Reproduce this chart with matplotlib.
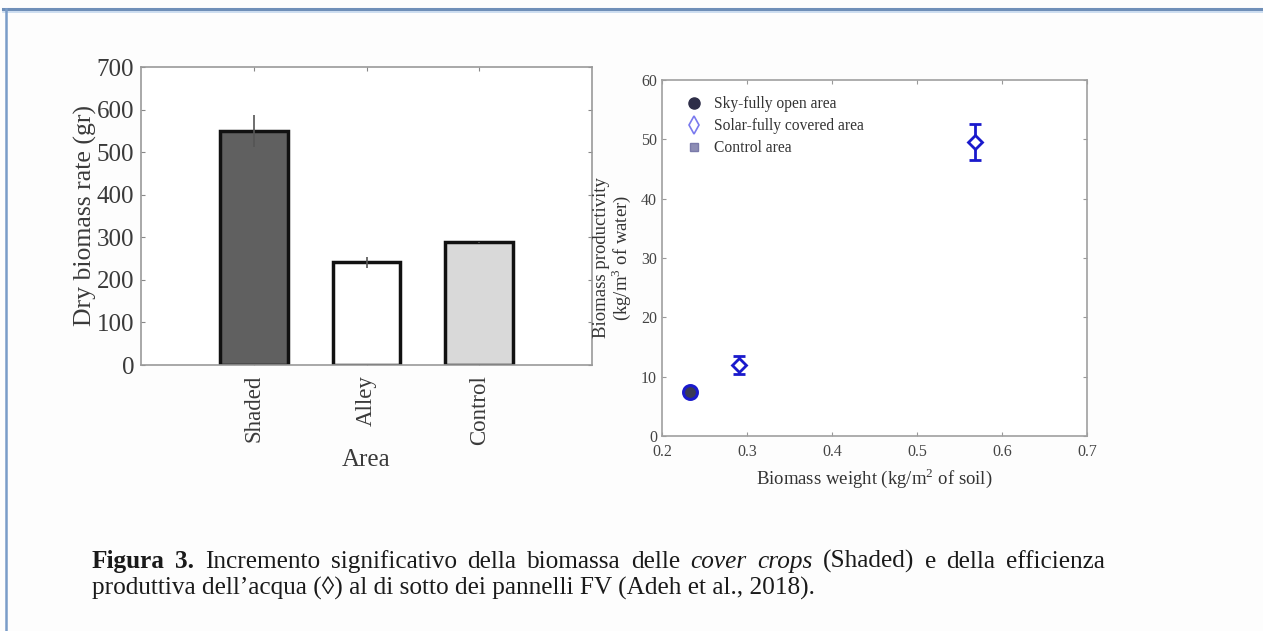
import matplotlib
matplotlib.use("Agg")
import matplotlib.pyplot as plt
from matplotlib.lines import Line2D

plt.rcParams['font.family'] = ['Liberation Serif', 'DejaVu Serif']
plt.rcParams['mathtext.fontset'] = 'custom'
plt.rcParams['mathtext.rm'] = 'Liberation Serif'

# ---- data: left bar chart ----
areas = ["Shaded", "Alley", "Control"]
biomass_rate = [550, 241, 288]
biomass_err = [37, 12, 2]
bar_colors = ["#606060", "#ffffff", "#d9d9d9"]

# ---- data: right scatter ----
series_labels = ["Sky-fully open area", "Solar-fully covered area", "Control area"]
sky_x = [0.233]
sky_y = [7.5]
sky_err = [0.6]
solar_x = [0.291, 0.568]
solar_y = [11.9, 49.6]
solar_err = [1.5, 3.0]

W, H = 1263, 631
fig = plt.figure(figsize=(W / 100, H / 100), dpi=100)
fig.patch.set_facecolor("#fdfdfd")

# frame lines (document box)
fig.add_artist(Line2D([3 / W, 1.0], [1 - 9 / H, 1 - 9 / H], color="#6f8fb8", lw=2.2))
fig.add_artist(Line2D([3 / W, 1.0], [1 - 11.5 / H, 1 - 11.5 / H], color="#c5d8ee", lw=1.2))
fig.add_artist(Line2D([6 / W, 6 / W], [0, 1 - 9 / H], color="#7a9cc8", lw=1.8))

gray_txt = "#3a3a3a"

# ---- left axes ----
ax1 = fig.add_axes([141 / W, 1 - 365 / H, (592 - 141) / W, (365 - 67) / H])
xs = [1, 2, 3]
ax1.bar(xs, biomass_rate, width=0.6, color=bar_colors, edgecolor="#111111", linewidth=2.5, zorder=2)
ax1.errorbar(xs, biomass_rate, yerr=biomass_err, fmt="none", ecolor="#555555", elinewidth=1.2, capsize=0, zorder=3)
ax1.set_xlim(0, 4)
ax1.set_ylim(0, 700)
ax1.set_yticks(range(0, 701, 100))
ax1.set_xticks(xs)
ax1.set_xticklabels(areas, rotation=90, fontsize=16.5, color=gray_txt)
ax1.tick_params(axis="y", labelsize=18, labelcolor=gray_txt, pad=5)
ax1.tick_params(axis="x", pad=7)
ax1.tick_params(direction="in", top=True, right=True, length=3, color="#888888", width=0.8)
for s in ax1.spines.values():
    s.set_color("#9a9a9a")
    s.set_linewidth(1.2)
ax1.set_ylabel("Dry biomass rate (gr)", fontsize=18.5, color=gray_txt, labelpad=0)
ax1.set_xlabel("Area", fontsize=18, color=gray_txt, labelpad=3)

# ---- right axes ----
ax2 = fig.add_axes([662 / W, 1 - 436 / H, (1087 - 662) / W, (436 - 80) / H])
blue = "#1a1acc"
ax2.errorbar(sky_x, sky_y, yerr=sky_err, fmt="o", color=blue, ecolor=blue,
             markerfacecolor="#3a3a55", markeredgecolor=blue, markersize=10, markeredgewidth=2.2,
             elinewidth=2, capsize=4, capthick=2, zorder=3)
ax2.errorbar(solar_x, solar_y, yerr=solar_err, fmt="D", color=blue, ecolor=blue,
             markerfacecolor="white", markeredgecolor=blue, markersize=7, markeredgewidth=2,
             elinewidth=2, capsize=4, capthick=2, zorder=3)
ax2.set_xlim(0.2, 0.7)
ax2.set_ylim(0, 60)
ax2.set_xticks([0.2, 0.3, 0.4, 0.5, 0.6, 0.7])
ax2.set_xticklabels(["0.2", "0.3", "0.4", "0.5", "0.6", "0.7"])
ax2.set_yticks(range(0, 61, 10))
ax2.tick_params(labelsize=11.5, labelcolor="#444444")
ax2.tick_params(axis="x", pad=6)
ax2.tick_params(direction="in", top=True, right=True, length=3, color="#999999", width=0.8)
for s in ax2.spines.values():
    s.set_color("#a0a0a0")
    s.set_linewidth(1.2)
ax2.set_xlabel("Biomass weight (kg/m$^2$ of soil)", fontsize=13.5, color="#333333", labelpad=4)
ax2.set_ylabel("Biomass productivity\n(kg/m$^3$ of water)", fontsize=13.5, color="#333333",
               labelpad=6, linespacing=0.95)

handles = [
    Line2D([], [], ls="none", marker="o", markersize=8, markerfacecolor="#2e2e48", markeredgecolor="#2e2e48"),
    Line2D([], [], ls="none", marker="d", markersize=9, markerfacecolor="white", markeredgecolor="#7a7aee", markeredgewidth=1.2),
    Line2D([], [], ls="none", marker="s", markersize=6, markerfacecolor="#8d8db5", markeredgecolor="#7a7aaa"),
]
ax2.legend(handles, series_labels, loc="upper left", frameon=False, fontsize=11.2,
           labelcolor="#333333", handletextpad=0.5, borderaxespad=0.3, labelspacing=0.38,
           handlelength=1.6, bbox_to_anchor=(0.02, 0.985))

# ---- caption ----
fig.canvas.draw()
renderer = fig.canvas.get_renderer()
fs = 18.2
cap_color = "#1a1a1a"

# first caption line is justified across 92 -> 1105 px
line1_words = [("Figura", "bold", "normal"), ("3.", "bold", "normal")]
line1_words += [(w, "normal", "normal") for w in
                "Incremento significativo della biomassa delle".split()]
line1_words += [(w, "normal", "italic") for w in "cover crops".split()]
line1_words += [(w, "normal", "normal") for w in "(Shaded) e della efficienza".split()]

arts, widths = [], []
for w, fw, st in line1_words:
    t = fig.text(0, 1 - 568 / H, w, fontsize=fs, color=cap_color, va="baseline", ha="left",
                 fontweight=fw, fontstyle=st)
    widths.append(t.get_window_extent(renderer=renderer).width)
    arts.append(t)
gap = ((1105 - 92) - sum(widths)) / (len(widths) - 1)
x = 92.0
for t, wd in zip(arts, widths):
    t.set_x(x / W)
    x += wd + gap

fig.text(92 / W, 1 - 595 / H,
         "produttiva dell\u2019acqua (\u25CA) al di sotto dei pannelli FV (Adeh et al., 2018).",
         fontsize=fs, color=cap_color, va="baseline", ha="left")

fig.savefig("out.png", dpi=100, facecolor=fig.get_facecolor())
